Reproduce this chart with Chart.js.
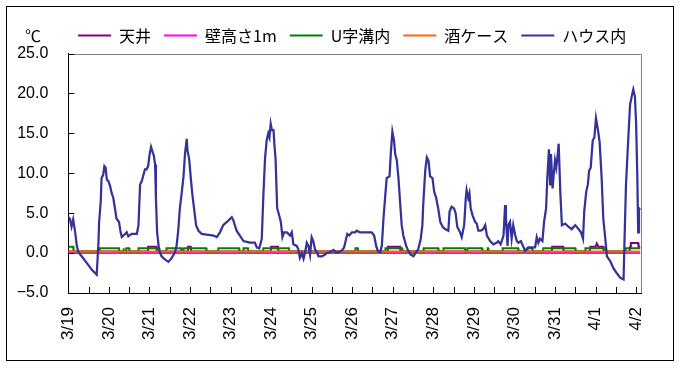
<!DOCTYPE html>
<html>
<head>
<meta charset="utf-8">
<script src="https://cdn.jsdelivr.net/npm/chart.js@4.4.1/dist/chart.umd.min.js"></script>
<style>
  body { margin: 0; background: #fff; }
  canvas { display: block; }
</style>
</head>
<body>
<canvas id="tempChart" width="681" height="367"></canvas>
<script>
// x axis: one label per day, tick marks every 12 h
const dayLabels = ['3/19', '3/20', '3/21', '3/22', '3/23', '3/24', '3/25', '3/26',
                   '3/27', '3/28', '3/29', '3/30', '3/31', '4/1', '4/2'];

// ハウス内 : time = days since 3/19 0:00, value = ℃
const houseT = [0.00, 0.04, 0.08, 0.12, 0.17, 0.21, 0.25, 0.33, 0.45, 0.58, 0.66, 0.70, 0.74, 0.76, 0.80, 0.82,
  0.86, 0.89, 0.92, 0.95, 0.99, 1.03, 1.07, 1.11, 1.15, 1.19, 1.25, 1.29, 1.32, 1.36, 1.44, 1.48, 1.56, 1.69,
  1.73, 1.77, 1.81, 1.89, 1.93, 1.97, 2.00, 2.04, 2.07, 2.11, 2.14, 2.16, 2.19, 2.24, 2.30, 2.38, 2.47, 2.55,
  2.63, 2.67, 2.71, 2.75, 2.80, 2.84, 2.88, 2.92, 2.94, 2.98, 3.02, 3.06, 3.10, 3.15, 3.21, 3.29, 3.41, 3.58,
  3.66, 3.74, 3.82, 3.91, 4.03, 4.07, 4.15, 4.23, 4.32, 4.48, 4.60, 4.65, 4.71, 4.77, 4.81, 4.85, 4.89, 4.93,
  4.96, 4.99, 5.02, 5.06, 5.08, 5.11, 5.15, 5.20, 5.24, 5.28, 5.32, 5.39, 5.47, 5.51, 5.55, 5.63, 5.67, 5.71,
  5.76, 5.80, 5.84, 5.88, 5.92, 5.96, 6.00, 6.04, 6.08, 6.13, 6.17, 6.25, 6.33, 6.37, 6.45, 6.54, 6.60, 6.66,
  6.74, 6.80, 6.85, 6.88, 6.93, 6.99, 7.07, 7.11, 7.19, 7.32, 7.40, 7.48, 7.54, 7.59, 7.63, 7.69, 7.73, 7.77,
  7.81, 7.85, 7.92, 7.95, 7.99, 8.03, 8.06, 8.10, 8.14, 8.18, 8.22, 8.26, 8.33, 8.38, 8.44, 8.51, 8.57, 8.63,
  8.69, 8.73, 8.75, 8.80, 8.84, 8.88, 8.92, 8.98, 9.02, 9.07, 9.12, 9.17, 9.23, 9.29, 9.37, 9.40, 9.45, 9.51,
  9.55, 9.59, 9.66, 9.70, 9.76, 9.80, 9.82, 9.86, 9.89, 9.92, 9.97, 10.03, 10.07, 10.11, 10.17, 10.23, 10.28,
  10.32, 10.40, 10.48, 10.56, 10.60, 10.66, 10.73, 10.77, 10.79, 10.83, 10.85, 10.89, 10.93, 10.97, 11.02,
  11.06, 11.10, 11.16, 11.21, 11.26, 11.34, 11.43, 11.51, 11.55, 11.59, 11.63, 11.69, 11.73, 11.78, 11.81,
  11.85, 11.88, 11.90, 11.94, 11.96, 12.00, 12.03, 12.06, 12.09, 12.13, 12.17, 12.25, 12.33, 12.41, 12.50,
  12.58, 12.64, 12.69, 12.72, 12.77, 12.81, 12.84, 12.88, 12.93, 12.97, 13.01, 13.06, 13.10, 13.15, 13.19,
  13.24, 13.28, 13.36, 13.44, 13.52, 13.61, 13.69, 13.71, 13.75, 13.80, 13.85, 13.89, 13.93, 13.97, 14.00,
  14.03, 14.05, 14.07, 14.10];
const houseV = [4.5, 4.3, 3.3, 4.2, 2.6, 0.9, 0.1, -0.4, -1.2, -2.1, -2.5, -2.7, 0.9, 3.9, 6.5, 9.4,
  9.8, 10.9, 10.7, 9.2, 9.0, 8.4, 7.5, 6.9, 5.6, 4.3, 3.9, 2.6, 2.0, 2.2, 2.6, 2.1, 2.4, 2.4,
  3.5, 8.6, 9.0, 10.5, 10.5, 10.9, 12.2, 13.3, 12.8, 12.2, 11.1, 6.9, 2.6, 0.3, -0.4, -0.8, -1.1, -0.6,
  0.1, 0.9, 2.8, 5.6, 7.7, 9.6, 12.6, 14.3, 12.8, 11.8, 9.4, 7.3, 5.6, 3.5, 2.8, 2.4, 2.3, 2.2,
  2.0, 2.6, 3.5, 3.9, 4.5, 4.1, 2.8, 2.2, 1.5, 1.3, 1.3, 0.7, 0.6, 1.8, 7.3, 11.8, 14.1, 15.0,
  14.5, 16.2, 15.4, 15.4, 13.7, 11.8, 5.6, 4.7, 3.9, 2.0, 2.6, 2.6, 2.2, 2.6, 1.1, 0.9, 0.5, -0.6,
  0.0, -0.7, 0.1, 1.3, 0.9, -0.2, 2.0, 1.5, 0.5, 0.1, -0.4, -0.4, -0.2, 0.0, 0.1, 0.4, 0.1, 0.1,
  0.3, 0.7, 1.8, 2.4, 2.2, 2.6, 2.6, 2.8, 2.6, 2.6, 2.6, 2.6, 2.2, 0.9, 0.3, 0.1, 0.9, 4.3,
  6.9, 9.4, 9.6, 12.4, 15.2, 14.1, 12.4, 11.6, 9.4, 6.4, 3.5, 2.2, 0.9, 0.3, -0.2, -0.4, 0.1, 0.5,
  1.8, 3.5, 6.0, 10.3, 12.0, 11.6, 9.6, 9.4, 7.7, 6.9, 5.6, 3.9, 3.3, 3.0, 2.8, 5.2, 5.8, 5.6,
  5.0, 3.3, 2.6, 2.0, 3.5, 6.9, 7.9, 6.9, 7.5, 5.6, 4.7, 3.9, 3.7, 2.8, 2.8, 3.0, 3.5,
  2.2, 1.5, 1.1, 1.3, 1.5, 1.1, 2.2, 6.0, 4.3, 0.9, 3.5, 3.9, 1.8, 3.5, 2.2,
  1.5, 1.3, 1.5, 0.9, 0.3, 0.7, 0.7, 0.7, 2.0, 1.3, 1.8, 1.5, 3.9, 5.6, 9.4,
  13.0, 8.6, 12.4, 8.1, 9.4, 11.6, 10.7, 12.0, 13.7, 7.7, 3.5, 3.7, 3.3, 3.0, 3.5,
  3.0, 2.6, 1.8, 5.2, 7.7, 8.6, 10.3, 10.7, 14.1, 14.5, 16.9, 15.4, 13.9, 9.4, 4.3,
  1.8, -0.4, -1.0, -1.9, -2.5, -3.1, -3.3, 0.9, 8.6, 13.7, 18.6, 19.6, 20.5, 19.6, 16.2,
  9.4, 2.6, 5.6, 5.4];

// 天井
const ceilT = [0.00, 1.96, 1.97, 2.17, 2.18, 2.94, 2.95, 3.02, 3.03, 4.99, 5.00, 5.17, 5.18, 7.87, 7.88, 8.18,
  8.19, 11.92, 11.93, 12.20, 12.21, 12.86, 12.87, 13.00, 13.03, 13.07, 13.19, 13.20, 13.84, 13.85, 13.87,
  14.05, 14.06, 14.10];
const ceilV = [0.2, 0.2, 0.8, 0.8, 0.2, 0.2, 0.8, 0.8, 0.2, 0.2, 0.8, 0.8, 0.2, 0.2, 0.8, 0.8,
  0.2, 0.2, 0.8, 0.8, 0.2, 0.2, 0.8, 0.8, 1.2, 0.8, 0.8, 0.2, 0.2, 0.8, 1.25,
  1.25, 0.8, 0.8];

// 壁高さ1m
const wallT = [0.00, 14.10];
const wallV = [0.0, 0.0];

// U字溝内
const ditchT = [0.00, 0.12, 0.13, 0.76, 0.77, 1.25, 1.26, 1.35, 1.36, 1.37, 1.42, 1.43, 1.50, 1.51, 1.72, 1.73,
  2.24, 2.25, 2.41, 2.42, 2.78, 2.79, 2.83, 2.84, 3.40, 3.41, 3.69, 3.70, 4.21, 4.22, 4.31, 4.32, 4.43, 4.44,
  4.80, 4.81, 5.44, 5.45, 7.07, 7.08, 7.14, 7.15, 7.81, 7.82, 8.23, 8.24, 8.75, 8.76, 9.12, 9.13, 9.24, 9.25,
  9.78, 9.79, 9.83, 9.84, 10.20, 10.21, 10.33, 10.34, 10.35, 10.36, 10.70, 10.71, 11.09, 11.10, 11.31, 11.32,
  11.44, 11.45, 11.70, 11.71, 12.50, 12.51, 12.74, 12.75, 13.24, 13.25, 13.73, 13.74, 14.10];
const ditchV = [0.8, 0.8, 0.2, 0.2, 0.6, 0.6, 0.2, 0.2, 0.6, 0.2, 0.2, 0.6, 0.6, 0.2, 0.2, 0.6,
  0.6, 0.2, 0.2, 0.6, 0.6, 0.2, 0.2, 0.6, 0.6, 0.2, 0.2, 0.6, 0.6, 0.2, 0.2, 0.6, 0.6, 0.2,
  0.2, 0.6, 0.6, 0.2, 0.2, 0.6, 0.6, 0.2, 0.2, 0.6, 0.6, 0.2, 0.2, 0.6, 0.6, 0.2, 0.2, 0.6,
  0.6, 0.2, 0.2, 0.6, 0.6, 0.2, 0.2, 0.6, 0.6, 0.2, 0.2, 0.6, 0.6, 0.2, 0.2, 0.6,
  0.6, 0.2, 0.2, 0.6, 0.6, 0.2, 0.2, 0.6, 0.6, 0.2, 0.2, 0.6, 0.6];

// 酒ケース
const caseT = [0.00, 14.10];
const caseV = [0.2, 0.2];

const yTicks = [-5, 0, 5, 10, 15, 20, 25];

function pts(t, v) {
    return t.map((x, i) => ({x: x, y: v[i]}));
}

function line(label, t, v, color, width, order) {
    return {
        label: label,
        data: pts(t, v),
        borderColor: color,
        backgroundColor: color,
        borderWidth: width,
        pointRadius: 0,
        tension: 0,
        order: order
    };
}

// inner tick marks, grey plot border, outer frame and the ℃ unit
const decorations = {
    id: 'decorations',
    afterLayout(chart) {
        // legend sits centred over the plot area, not the whole canvas
        chart.legend.left = chart.chartArea.left - 5;
        chart.legend.right = chart.chartArea.right;
    },
    afterDraw(chart) {
        const ctx = chart.ctx;
        const a = chart.chartArea;
        const x = chart.scales.x;
        const y = chart.scales.y;
        ctx.save();
        ctx.lineWidth = 1;
        ctx.strokeStyle = '#808080';
        ctx.beginPath();
        ctx.moveTo(a.left, Math.round(a.top) + 0.5);
        ctx.lineTo(Math.round(a.right) + 0.5, Math.round(a.top) + 0.5);
        ctx.lineTo(Math.round(a.right) + 0.5, a.bottom);
        ctx.stroke();

        ctx.strokeStyle = '#000';
        ctx.beginPath();
        x.ticks.forEach(t => {
            const px = Math.round(x.getPixelForValue(t.value)) + 0.5;
            ctx.moveTo(px, a.bottom);
            ctx.lineTo(px, a.bottom - 6);
        });
        y.ticks.forEach(t => {
            const py = Math.round(y.getPixelForValue(t.value)) + 0.5;
            ctx.moveTo(a.left, py);
            ctx.lineTo(a.left + 6, py);
        });
        ctx.stroke();

        ctx.strokeRect(6.5, 6.5, 667, 354);

        ctx.fillStyle = '#000';
        ctx.font = '16px "Noto Sans CJK JP"';
        ctx.textAlign = 'center';
        ctx.textBaseline = 'middle';
        ctx.fillText('℃', 33, 36);
        ctx.restore();
    }
};

Chart.defaults.font.family = '"Noto Sans CJK JP", sans-serif';
Chart.defaults.color = '#000';

const ctx = document.getElementById('tempChart').getContext('2d');
let tempChart = new Chart(ctx, {
    type: 'line',
    data: {
        datasets: [
            line('天井', ceilT, ceilV, '#800080', 2, 5),
            line('壁高さ1m', wallT, wallV, '#FF00FF', 2, 4),
            line('U字溝内', ditchT, ditchV, '#008000', 2, 3),
            line('酒ケース', caseT, caseV, '#FF6600', 2, 2),
            line('ハウス内', houseT, houseV, '#333399', 2.25, 1)
        ]
    },
    plugins: [decorations],
    options: {
        responsive: false,
        animation: false,
        devicePixelRatio: 1,
        layout: {
            padding: {left: 10, right: 40, top: 14.5, bottom: 14}
        },
        plugins: {
            tooltip: {enabled: false},
            legend: {
                position: 'top',
                maxHeight: 43.5,
                labels: {
                    font: {size: 16, family: '"Noto Sans CJK JP"'},
                    color: '#000',
                    boxWidth: 33,
                    boxHeight: 2,
                    padding: 13,
                    sort: (a, b) => a.datasetIndex - b.datasetIndex,
                    generateLabels: (chart) => Chart.defaults.plugins.legend.labels.generateLabels(chart)
                        .map(l => Object.assign(l, {lineWidth: 0}))
                }
            }
        },
        scales: {
            x: {
                type: 'linear',
                min: 0,
                max: 14.12,
                grid: {display: false, drawTicks: false},
                border: {display: true, color: '#000', width: 1},
                afterFit: (scale) => { scale.height = 60; },
                afterBuildTicks: (scale) => {
                    const ticks = [];
                    for (let i = 0; i <= (dayLabels.length - 1) * 2; i++) ticks.push({value: i / 2});
                    scale.ticks = ticks;
                },
                ticks: {
                    autoSkip: false,
                    minRotation: 90,
                    maxRotation: 90,
                    padding: 14,
                    color: '#000',
                    font: {size: 17, family: '"Liberation Sans", Arial, sans-serif'},
                    callback: (v) => Number.isInteger(v) ? dayLabels[v] : ''
                }
            },
            y: {
                min: yTicks[0],
                max: yTicks[yTicks.length - 1],
                grid: {display: false, drawTicks: false},
                border: {display: true, color: '#000', width: 1},
                afterFit: (scale) => { scale.width = 58.3; },
                ticks: {
                    stepSize: 5,
                    padding: 20,
                    color: '#000',
                    font: {size: 16, family: '"Liberation Sans", Arial, sans-serif'},
                    callback: (v) => (v < 0 ? '\u2212' : '') + Math.abs(v).toFixed(1)
                }
            }
        }
    }
});
</script>
</body>
</html>
